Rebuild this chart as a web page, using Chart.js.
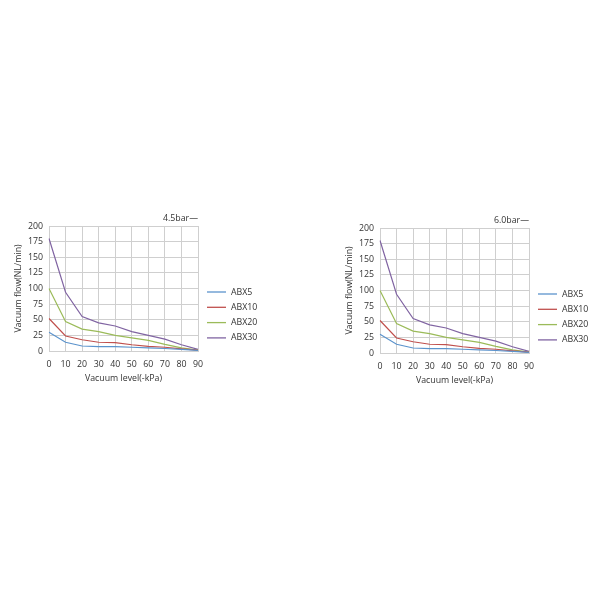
<!DOCTYPE html>
<html>
<head>
<meta charset="utf-8">
<script src="https://cdn.jsdelivr.net/npm/chart.js@4.4.1/dist/chart.umd.min.js"></script>
<style>
  body { margin: 0; background: #fff; overflow: hidden; }
  canvas { position: absolute; }
</style>
</head>
<body>
<canvas id="chart45" width="265" height="185" style="left:0px;top:205px"></canvas>
<canvas id="chart60" width="265" height="185" style="left:331px;top:207px"></canvas>
<script>
// data (both pressures look the same)
const vacuum = [0, 10, 20, 30, 40, 50, 60, 70, 80, 90];
const abx5  = [30, 14, 8, 7, 7, 6, 5, 4, 2.5, 1];
const abx10 = [52, 24, 18, 14, 13.5, 10, 7.5, 6, 3.5, 1.5];
const abx20 = [100, 47, 35, 31, 25, 21, 17, 10.5, 5, 1.5];
const abx30 = [180, 94, 55, 45, 40, 31, 25, 19, 10, 2.5];
const seriesNames = ['ABX5', 'ABX10', 'ABX20', 'ABX30'];
const seriesColors = ['#5b93cc', '#c0504d', '#9bbb59', '#8064a2'];
const yTicks = [0, 25, 50, 75, 100, 125, 150, 175, 200];

const FONT = '"Open Sans", "Noto Sans", sans-serif';
const FSIZE = 8.8;
const gridColor = '#cfcfcf';

// legend + pressure label drawn by hand so they sit where the original has them
const sideLegend = {
  id: 'sideLegend',
  afterDraw(chart, args, opts) {
    const ctx = chart.ctx;
    ctx.save();
    ctx.font = FSIZE + 'px ' + FONT;
    ctx.textBaseline = 'middle';
    chart.data.datasets.forEach((ds, i) => {
      const y = 87 + i * 15.3;
      ctx.strokeStyle = ds.borderColor;
      ctx.lineWidth = 1.3;
      ctx.beginPath();
      ctx.moveTo(207, y);
      ctx.lineTo(226, y);
      ctx.stroke();
      ctx.fillStyle = '#333';
      ctx.textAlign = 'left';
      ctx.fillText(ds.label, 231, y);
    });
    ctx.textAlign = 'right';
    ctx.fillText(opts.text, chart.chartArea.right, 13);
    ctx.restore();
  }
};

function makeChart(id, pressure) {
  const datasets = [abx5, abx10, abx20, abx30].map((vals, i) => ({
    label: seriesNames[i],
    data: vals,
    borderColor: seriesColors[i],
    backgroundColor: seriesColors[i],
    borderWidth: 1.2,
    pointRadius: 0,
    tension: 0
  }));

  return new Chart(document.getElementById(id), {
    type: 'line',
    data: { labels: vacuum, datasets: datasets },
    plugins: [sideLegend],
    options: {
      responsive: false,
      animation: false,
      layout: { padding: { left: 10, right: 67, top: 21, bottom: 0 } },
      plugins: {
        legend: { display: false },
        tooltip: { enabled: false },
        sideLegend: { text: pressure + 'bar\u2014' }
      },
      scales: {
        x: {
          grid: { color: gridColor, drawTicks: false },
          border: { color: gridColor },
          ticks: { color: '#333', padding: 8, maxRotation: 0, font: { size: FSIZE, family: FONT } },
          title: { display: true, text: 'Vacuum level(-kPa)', color: '#333',
                   padding: { top: 0, bottom: 6 }, font: { size: FSIZE, family: FONT } },
          afterFit(s) { s.height = 39; }
        },
        y: {
          min: 0, max: 200,
          afterBuildTicks(s) { s.ticks = yTicks.map(v => ({ value: v })); },
          grid: { color: gridColor, drawTicks: false },
          border: { color: gridColor },
          ticks: { color: '#333', padding: 6, font: { size: FSIZE, family: FONT } },
          title: { display: true, text: 'Vacuum flow(NL/min)', color: '#333',
                   padding: { top: 3, bottom: 0 }, font: { size: FSIZE, family: FONT } },
          afterFit(s) { s.width = 39; }
        }
      }
    }
  });
}

makeChart('chart45', '4.5');
makeChart('chart60', '6.0');
</script>
</body>
</html>
